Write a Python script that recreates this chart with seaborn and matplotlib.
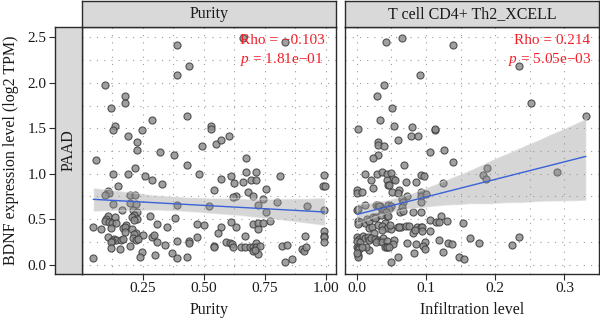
import numpy as np
import pandas as pd
import seaborn as sns
import matplotlib.pyplot as plt

# ---- data ----------------------------------------------------------------
purity = [
    0.389, 0.439, 0.389, 0.096, 0.176, 0.176, 0.118, 0.429, 0.288, 0.137,
    0.127, 0.247, 0.529, 0.529, 0.187, 0.227, 0.227, 0.318, 0.490, 0.550,
    0.571, 0.601, 0.671, 0.377, 0.057, 0.660, 0.832,
    0.429, 0.217, 0.127, 0.187, 0.257, 0.288, 0.480, 0.328, 0.148, 0.105,
    0.111, 0.096, 0.198, 0.217, 0.127, 0.198, 0.220, 0.389, 0.520, 0.165,
    0.210, 0.225, 0.215, 0.205, 0.225, 0.215,
    0.107, 0.100, 0.096, 0.110, 0.137, 0.280, 0.380, 0.124, 0.141, 0.180,
    0.309, 0.470, 0.500, 0.046, 0.077, 0.118, 0.167, 0.178, 0.206, 0.350,
    0.176, 0.220, 0.212, 0.250, 0.107, 0.287, 0.296,
    0.130, 0.140, 0.160, 0.170, 0.125, 0.210, 0.220, 0.230,
    0.118, 0.307, 0.440, 0.440, 0.470, 0.389, 0.339, 0.197, 0.118, 0.157,
    0.247, 0.298, 0.369, 0.046, 0.239, 0.389, 0.430,
    0.672, 0.712, 0.612, 0.571, 0.622, 0.661, 0.691, 0.712, 0.813, 0.992,
    0.988, 0.995, 0.540, 0.682, 0.700, 0.630, 0.620, 0.753, 0.740, 0.800,
    0.721, 0.923, 0.753, 0.992, 0.772, 0.702, 0.723, 0.742, 0.721, 0.609,
    0.571, 0.631, 0.559, 0.993, 0.993, 0.993, 0.670, 0.913, 0.992,
    0.590, 0.605, 0.615, 0.620, 0.540, 0.540,
    0.650, 0.670, 0.690, 0.700, 0.712, 0.712, 0.730, 0.700, 0.720, 0.710,
    0.820, 0.840, 0.900, 0.910, 0.920, 0.862, 0.833,
]
bdnf_purity = [
    2.42, 2.18, 2.08, 1.97, 1.85, 1.78, 1.72, 1.63, 1.59, 1.53,
    1.48, 1.48, 1.52, 1.49, 1.42, 1.35, 1.26, 1.24, 1.30, 1.33,
    1.37, 1.42, 1.17, 1.21, 1.15, 2.49, 2.45,
    1.10, 1.06, 1.00, 1.00, 0.97, 0.93, 1.00, 0.89, 0.87, 0.81,
    0.79, 0.77, 0.77, 0.77, 0.67, 0.68, 0.67, 0.66, 0.65, 0.60,
    0.60, 0.58, 0.55, 0.52, 0.50, 0.49,
    0.54, 0.50, 0.48, 0.47, 0.52, 0.54, 0.51, 0.46, 0.46, 0.44,
    0.45, 0.45, 0.44, 0.41, 0.39, 0.40, 0.40, 0.41, 0.39, 0.41,
    0.36, 0.35, 0.34, 0.33, 0.31, 0.31, 0.33,
    0.28, 0.27, 0.27, 0.28, 0.26, 0.29, 0.27, 0.28,
    0.245, 0.245, 0.26, 0.24, 0.30, 0.26, 0.22, 0.205, 0.18, 0.17,
    0.135, 0.11, 0.125, 0.077, 0.084, 0.077, 0.08,
    1.02, 1.02, 0.98, 0.94, 0.90, 0.91, 0.93, 0.93, 0.97, 0.99,
    0.87, 0.87, 0.82, 0.80, 0.76, 0.76, 0.74, 0.83, 0.72, 0.69,
    0.66, 0.65, 0.58, 0.60, 0.48, 0.45, 0.46, 0.46, 0.39, 0.47,
    0.42, 0.41, 0.35, 0.37, 0.32, 0.30, 0.32, 0.32, 0.25,
    0.245, 0.235, 0.23, 0.20, 0.21, 0.19,
    0.19, 0.20, 0.20, 0.19, 0.24, 0.20, 0.21, 0.15, 0.12, 0.16,
    0.21, 0.22, 0.17, 0.15, 0.19, 0.06, 0.025,
]

infiltration = [
    0.042, 0.065, 0.139, 0.091, 0.039, 0.029, 0.051, 0.034, 0.002, 0.053,
    0.079, 0.113, 0.113, 0.078, 0.088, 0.060, 0.031, 0.031, 0.039, 0.105,
    0.126, 0.234, 0.251, 0.331,
    0.031, 0.023, 0.068, 0.139, 0.012, 0.029, 0.036, 0.044, 0.049, 0.092,
    0.097, 0.021, 0.052, 0.055, 0.043, 0.071, 0.045, 0.047, 0.086, 0.125,
    0.000, 0.000, 0.007, 0.024, 0.051, 0.061, 0.059, 0.072, 0.092, 0.093,
    0.100,
    0.000, 0.002, 0.011, 0.027, 0.030, 0.034, 0.032, 0.045, 0.050, 0.037,
    0.039, 0.046, 0.042, 0.065, 0.067, 0.065, 0.062, 0.066, 0.093, 0.081,
    0.093, 0.122, 0.105,
    0.002, 0.004, 0.011, 0.001, 0.014, 0.017,
    0.023, 0.027, 0.026, 0.035, 0.043, 0.045,
    0.018, 0.022, 0.031, 0.041, 0.036, 0.044, 0.050, 0.048, 0.037, 0.025,
    0.059, 0.064, 0.061, 0.071, 0.075, 0.081, 0.087, 0.092, 0.094, 0.084,
    0.094, 0.115, 0.118, 0.130, 0.153, 0.105,
    0.000, 0.003, 0.000, 0.005, 0.009, 0.012, 0.016, 0.018, 0.021, 0.026,
    0.030, 0.034, 0.038, 0.027, 0.037, 0.043,
    0.054, 0.052, 0.073, 0.085, 0.098, 0.096, 0.118, 0.131, 0.138, 0.163,
    0.000, 0.002, 0.003, 0.001, 0.002, 0.000,
    0.040, 0.043, 0.044, 0.046, 0.018, 0.013, 0.008,
    0.083, 0.098, 0.125, 0.050, 0.060, 0.148, 0.155,
    0.188, 0.183, 0.186, 0.289, 0.177, 0.224, 0.235,
]
bdnf_infiltration = [
    2.45, 2.49, 2.42, 2.08, 1.97, 1.85, 1.72, 1.59, 1.49, 1.53,
    1.51, 1.48, 1.49, 1.42, 1.42, 1.37, 1.35, 1.32, 1.30, 1.24,
    1.26, 2.18, 1.78, 1.63,
    1.21, 1.17, 1.10, 1.13, 1.00, 1.00, 1.02, 1.00, 1.01, 0.99,
    0.97, 0.93, 0.94, 0.93, 0.93, 0.91, 0.88, 0.875, 0.91, 0.90,
    0.82, 0.79, 0.80, 0.84, 0.80, 0.82, 0.79, 0.76, 0.80, 0.76,
    0.78,
    0.60, 0.61, 0.66, 0.66, 0.66, 0.65, 0.64, 0.66, 0.65, 0.60,
    0.60, 0.61, 0.58, 0.72, 0.69, 0.63, 0.58, 0.59, 0.69, 0.58,
    0.58, 0.54, 0.49,
    0.48, 0.47, 0.46, 0.45, 0.50, 0.48,
    0.53, 0.52, 0.51, 0.55, 0.54, 0.54,
    0.40, 0.42, 0.44, 0.46, 0.43, 0.40, 0.39, 0.44, 0.38, 0.35,
    0.41, 0.41, 0.42, 0.43, 0.43, 0.35, 0.41, 0.41, 0.42, 0.38,
    0.37, 0.475, 0.475, 0.48, 0.46, 0.37,
    0.31, 0.28, 0.26, 0.25, 0.32, 0.29, 0.31, 0.27, 0.29, 0.28,
    0.27, 0.26, 0.29, 0.25, 0.25, 0.26,
    0.27, 0.23, 0.24, 0.23, 0.245, 0.21, 0.27, 0.24, 0.23, 0.29,
    0.20, 0.18, 0.17, 0.11, 0.09, 0.13,
    0.20, 0.19, 0.195, 0.20, 0.16, 0.19, 0.20,
    0.13, 0.17, 0.135, 0.025, 0.08, 0.085, 0.066,
    1.06, 0.99, 0.94, 1.02, 0.24, 0.22, 0.30,
]

panel_titles = ["Purity", "T cell CD4+ Th2_XCELL"]
row_label = "PAAD"
x_labels = ["Purity", "Infiltration level"]
y_label = "BDNF expression level (log2 TPM)"
rho_values = ["\u22120.103", "0.214"]
p_values = ["1.81e\u221201", "5.05e\u221203"]

x_ticks = [[0.25, 0.50, 0.75, 1.00], [0.0, 0.1, 0.2, 0.3]]
x_tick_labels = [["0.25", "0.50", "0.75", "1.00"], ["0.0", "0.1", "0.2", "0.3"]]
x_minor = [np.arange(0.125, 1.01, 0.125), np.arange(0.0, 0.351, 0.05)]
y_ticks = [0.0, 0.5, 1.0, 1.5, 2.0, 2.5]
y_tick_labels = ["0.0", "0.5", "1.0", "1.5", "2.0", "2.5"]

frames = [
    pd.DataFrame({"x": purity, "y": bdnf_purity}),
    pd.DataFrame({"x": infiltration, "y": bdnf_infiltration}),
]

# ---- style ---------------------------------------------------------------
sns.set_theme(style="white")
plt.rcParams["font.family"] = ["Liberation Serif", "DejaVu Serif"]
plt.rcParams["mathtext.fontset"] = "custom"
plt.rcParams["mathtext.rm"] = "Liberation Serif"
plt.rcParams["mathtext.it"] = "Liberation Serif:italic"

W, H = 600, 322
fig = plt.figure(figsize=(W / 100, H / 100), dpi=100)


def box(x0, y0, x1, y1):
    return [x0 / W, 1 - y1 / H, (x1 - x0) / W, (y1 - y0) / H]


axL = fig.add_axes(box(82, 27, 336, 274))
axR = fig.add_axes(box(345, 27, 599, 274), sharey=axL)
strip_row = fig.add_axes(box(55, 27, 82, 274), sharey=axL)
strips_top = [fig.add_axes(box(82, 0.5, 336, 27)), fig.add_axes(box(345, 0.5, 599, 27))]

xlims = [(0.0, 1.041), (-0.0172, 0.348)]
ylim = (-0.102, 2.613)

frame_color = "#2b2b2b"
strip_fill = "#d9d9d9"
text_color = "#1a1a1a"
red = "#f2202a"

for i, ax in enumerate([axL, axR]):
    d = frames[i]
    sns.scatterplot(data=d, x="x", y="y", ax=ax, color="#8f8f8f",
                    edgecolor="#3d3d3d", linewidth=0.8, s=26, alpha=0.85,
                    legend=False)
    sns.regplot(data=d, x="x", y="y", ax=ax, scatter=False, ci=95,
                n_boot=1000, seed=1, truncate=True,
                line_kws={"color": "#3b62d6", "lw": 1.0})
    band = ax.collections[-1]
    band.set_facecolor("#999999")
    band.set_alpha(0.4)

    ax.set_xlim(*xlims[i])
    ax.set_ylim(*ylim)
    ax.set_xticks(x_ticks[i])
    ax.set_xticklabels(x_tick_labels[i])
    ax.set_xticks(x_minor[i], minor=True)
    ax.set_yticks(y_ticks)
    ax.set_yticks(np.arange(0.25, 2.51, 0.5), minor=True)
    ax.grid(which="both", color="#9c9c9c", lw=0.8, ls=(0, (1, 5.5)))
    ax.set_axisbelow(True)
    ax.tick_params(axis="x", which="major", length=4, width=0.8,
                   color=frame_color, labelsize=11, labelcolor=text_color,
                   bottom=True, pad=2)
    ax.tick_params(axis="x", which="minor", length=0)
    ax.tick_params(axis="y", which="both", left=False, labelleft=False)
    ax.set_xlabel(x_labels[i], fontsize=11.5, color=text_color, labelpad=5)
    ax.set_ylabel("")
    for sp in ax.spines.values():
        sp.set_color(frame_color)
        sp.set_linewidth(1.0)

    ax.text(0.955 if i == 0 else 0.965, 0.947, f"Rho = {rho_values[i]}",
            transform=ax.transAxes, ha="right", va="center", color=red,
            fontsize=11)
    ax.text(0.950 if i == 0 else 0.972, 0.870, r"$\it{p}$" + f" = {p_values[i]}",
            transform=ax.transAxes, ha="right", va="center", color=red,
            fontsize=11)

# top strips
for i, sax in enumerate(strips_top):
    sax.set_facecolor(strip_fill)
    sax.set_xticks([])
    sax.set_yticks([])
    for sp in sax.spines.values():
        sp.set_color(frame_color)
        sp.set_linewidth(1.0)
    sax.text(0.5, 0.5, panel_titles[i], transform=sax.transAxes,
             ha="center", va="center", fontsize=11.5, color=text_color)

# row strip carrying the y axis
strip_row.set_facecolor(strip_fill)
strip_row.set_xticks([])
strip_row.set_ylim(*ylim)
strip_row.set_yticks(y_ticks)
strip_row.set_yticklabels(y_tick_labels)
strip_row.tick_params(axis="y", which="major", left=True, labelleft=True,
                      length=4, width=0.8, color=frame_color, labelsize=11,
                      labelcolor=text_color, pad=2)
strip_row.tick_params(axis="y", which="minor", length=0)
for sp in strip_row.spines.values():
    sp.set_color(frame_color)
    sp.set_linewidth(1.0)
strip_row.text(0.5, 0.5, row_label, transform=strip_row.transAxes,
               rotation=90, ha="center", va="center", fontsize=11.5,
               color=text_color)
strip_row.set_ylabel(y_label, fontsize=11.5, color=text_color, labelpad=6)

fig.savefig("out.png", dpi=100)
